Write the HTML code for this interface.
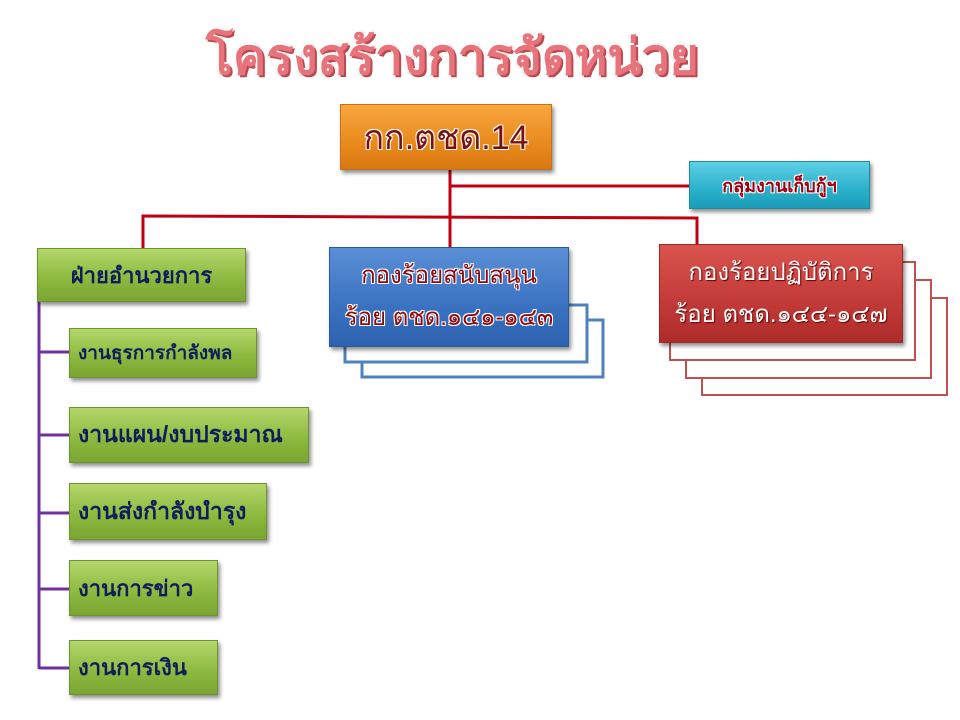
<!DOCTYPE html>
<html><head><meta charset="utf-8"><style>
body{margin:0;width:960px;height:720px;background:#fff;position:relative;overflow:hidden;font-family:"Liberation Sans",sans-serif}
.b{position:absolute;box-sizing:border-box;display:flex;align-items:center;justify-content:center;box-shadow:2px 3px 4px rgba(0,0,0,.45);text-align:center}
.g{background:linear-gradient(#b4d66a,#8bb83e 60%,#7aa532);border:1px solid #6e9430;color:#0d1f5a;font-weight:bold;justify-content:flex-start;padding-left:8px;font-size:21px}
.t{text-shadow:-1px -1px 0 #fff,1px -1px 0 #fff,-1px 1px 0 #fff,1px 1px 0 #fff}
</style></head><body>
<div class="t" style="position:absolute;left:205px;top:18px;width:495px;text-align:center;font-size:50px;font-weight:bold;color:#e8737b;text-shadow:-2px -2px 0 #fff,2px 2px 0 #b94a50,0 0 3px #aaa">โครงสร้างการจัดหน่วย</div>
<svg style="position:absolute;left:0;top:0" width="960" height="720">
<g stroke="#c00010" stroke-width="3" fill="none">
<line x1="450" y1="170" x2="450" y2="248"/>
<line x1="450" y1="186" x2="690" y2="186"/>
<polyline points="143,248 143,216 697,218 697,245"/>
</g>
<g stroke="#7030a0" stroke-width="3" fill="none">
<line x1="39" y1="300" x2="39" y2="669"/>
<line x1="39" y1="352" x2="69" y2="352"/>
<line x1="39" y1="435" x2="69" y2="435"/>
<line x1="39" y1="513" x2="69" y2="513"/>
<line x1="39" y1="589" x2="69" y2="589"/>
<line x1="39" y1="668" x2="69" y2="668"/>
</g>
<g fill="#fff" stroke="#4f81bd" stroke-width="3">
<rect x="362" y="320" width="241" height="57"/>
<rect x="345" y="305" width="242" height="57"/>
</g>
<g fill="#fff" stroke="#c0504d" stroke-width="2">
<rect x="702" y="298" width="245" height="97"/>
<rect x="686" y="280" width="245" height="98"/>
<rect x="670" y="262" width="245" height="98"/>
</g>
</svg>
<div class="b t" style="left:340px;top:104px;width:212px;height:66px;background:linear-gradient(#f9a640,#e98a1c 60%,#d97812);border:1px solid #c87020;font-size:34px;color:#7a1010">กก.ตชด.14</div>
<div class="b t" style="left:689px;top:161px;width:181px;height:48px;background:linear-gradient(#5fd0e6,#2ab0cc 60%,#1c9cb8);border:1px solid #1d8aa0;font-size:18px;font-weight:bold;color:#a00010">กลุ่มงานเก็บกู้ฯ</div>
<div class="b t" style="left:329px;top:247px;width:240px;height:100px;background:linear-gradient(#5b8fd6,#3a72c2 60%,#2d62ad);border:1px solid #2a5aa0;font-size:24px;color:#8a0a10;line-height:42px"><div>กองร้อยสนับสนุน<br>ร้อย ตชด.๑๔๑-๑๔๓</div></div>
<div class="b" style="left:659px;top:244px;width:244px;height:99px;background:linear-gradient(#d9534f,#c23a37 60%,#ad2c2a);border:1px solid #9a2a28;font-size:24px;color:#fff;line-height:42px;text-shadow:1px 1px 1px #600"><div>กองร้อยปฏิบัติการ<br>ร้อย ตชด.๑๔๔-๑๔๗</div></div>
<div class="b g" style="left:37px;top:248px;width:209px;height:54px;justify-content:center;padding:0;font-size:22px">ฝ่ายอำนวยการ</div>
<div class="b g" style="left:69px;top:328px;width:188px;height:50px;font-size:19px">งานธุรการกำลังพล</div>
<div class="b g" style="left:69px;top:407px;width:240px;height:56px;font-size:23px">งานแผน/งบประมาณ</div>
<div class="b g" style="left:69px;top:483px;width:198px;height:57px;font-size:23px">งานส่งกำลังบำรุง</div>
<div class="b g" style="left:69px;top:560px;width:149px;height:56px;font-size:22px">งานการข่าว</div>
<div class="b g" style="left:69px;top:640px;width:149px;height:55px;font-size:22px">งานการเงิน</div>
</body></html>
